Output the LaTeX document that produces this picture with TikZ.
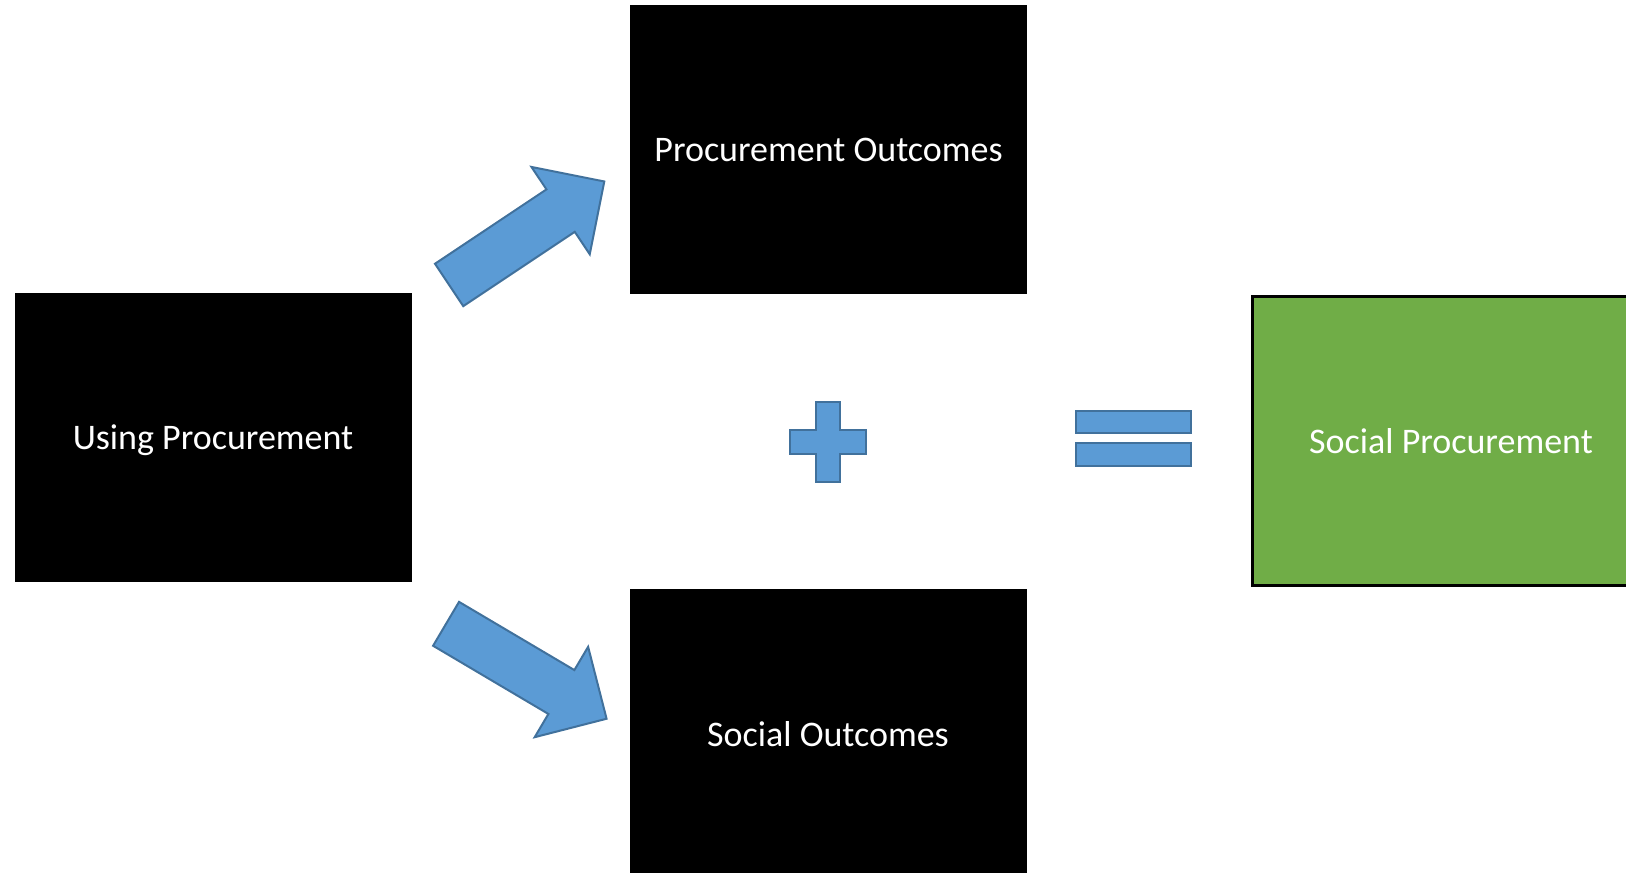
\documentclass[tikz,border=0pt]{standalone}
\usepackage{fontspec}
\setmainfont{Carlito}
\usetikzlibrary{shapes.arrows}
\definecolor{blockblue}{HTML}{5B9BD5}
\definecolor{blockedge}{HTML}{41719C}
\definecolor{resultgreen}{HTML}{70AD47}

\begin{document}
\begin{tikzpicture}[x=1pt,y=-1pt,
		box/.style={rectangle,fill=black,text=white,inner sep=0pt,
			minimum width=397pt,minimum height=289pt,text depth=0pt,
			font=\fontsize{36}{43}\selectfont},
		result/.style={box,fill=resultgreen,draw=black,line width=2.5pt},
		bigarrow/.style={single arrow,fill=blockblue,draw=blockedge,line width=2pt,
			minimum height=186.5pt,single arrow head extend=27pt,
			inner xsep=0pt,inner ysep=24.5pt,anchor=tail},
		sign/.style={fill=blockblue,draw=blockedge,line width=2pt}]
		\useasboundingbox (0,0) rectangle (1626,873);
		\node[box](using) at (213,437.5){Using Procurement};
		\node[box](procout) at (828.5,149.5){Procurement Outcomes};
		\node[box](socout) at (828,733.5){Social Outcomes};
		\node[result](socproc) at (1451,441){Social Procurement};
		% block arrows
		\node[bigarrow,rotate=33.7](uparrow) at (448.3,285.5){};
		\node[bigarrow,rotate=-30.6](downarrow) at (445.2,623.3){};
		% plus and equals
		\draw[sign] (816,402) -- (840,402) -- (840,430) -- (866,430) -- (866,454)
			-- (840,454) -- (840,482) -- (816,482) -- (816,454) -- (790,454)
			-- (790,430) -- (816,430) -- cycle;
		\draw[sign] (1076,411) rectangle (1191,433);
		\draw[sign] (1076,443) rectangle (1191,466);
	\end{tikzpicture}
\end{document}
